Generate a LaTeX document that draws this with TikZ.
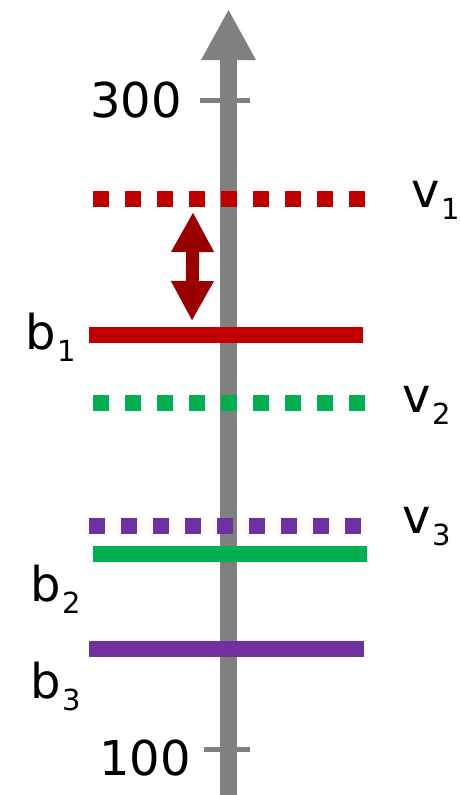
\documentclass[tikz,border=0pt]{standalone}
\usepackage{fontspec}
\setmainfont{DejaVu Sans}
\usetikzlibrary{arrows.meta}
\definecolor{cred}{HTML}{C00000}
\definecolor{cgreen}{HTML}{00B050}
\definecolor{cpurple}{HTML}{7030A0}
\definecolor{cgray}{HTML}{808080}
\definecolor{cdark}{HTML}{990000}
\newcommand{\subtxt}[1]{\kern1.5pt\raisebox{-12pt}{\fontsize{29}{29}\selectfont #1}}
\begin{document}
\begin{tikzpicture}[x=1pt,y=-1pt,
  lbl/.style={inner sep=0pt,anchor=base west,font=\fontsize{48}{58}\selectfont},
  num/.style={inner sep=0pt,anchor=base east,font=\fontsize{48}{58}\selectfont},
  dotline/.style={line width=16pt,dash pattern=on 16pt off 16pt},
  solidline/.style={line width=16pt},
  tick/.style={cgray,line width=5pt}]
\useasboundingbox (0,0) rectangle (460,795);
% axis
\coordinate (ax0) at (228.5,795);
\coordinate (ax1) at (228.5,9);
\draw[cgray,line width=17pt,-{Triangle[width=51pt,length=51pt]}] (ax0) -- (ax1);
% ticks
\coordinate (t3a) at (200,100); \coordinate (t3b) at (250,100);
\coordinate (t1a) at (204,749); \coordinate (t1b) at (250,749);
\draw[tick] (t3a) -- (t3b);
\draw[tick] (t1a) -- (t1b);
\node[num] (n300) at (182,117) {300};
\node[num] (n100) at (191,775) {100};
% levels
\coordinate (v1a) at (93,199); \coordinate (v1b) at (365,199);
\coordinate (b1a) at (89,335); \coordinate (b1b) at (363,335);
\coordinate (v2a) at (93,403); \coordinate (v2b) at (365,403);
\coordinate (v3a) at (89,525.5); \coordinate (v3b) at (361,525.5);
\coordinate (b2a) at (93,553.5); \coordinate (b2b) at (367,553.5);
\coordinate (b3a) at (89,648.5); \coordinate (b3b) at (363.5,648.5);
\draw[cred,dotline] (v1a) -- (v1b);
\draw[cred,solidline] (b1a) -- (b1b);
\draw[cgreen,dotline] (v2a) -- (v2b);
\draw[cpurple,dotline] (v3a) -- (v3b);
\draw[cgreen,solidline] (b2a) -- (b2b);
\draw[cpurple,solidline] (b3a) -- (b3b);
% double arrow
\coordinate (da1) at (193,212); \coordinate (da2) at (192,321);
\draw[cdark,line width=13pt,{Triangle[width=40pt,length=40pt]}-{Triangle[width=40pt,length=40pt]}] (da1) -- (da2);
% labels
\node[lbl] (lv1) at (411,207.7) {v\subtxt{1}};
\node[lbl] (lb1) at (25,349) {b\subtxt{1}};
\node[lbl] (lv2) at (402,412.7) {v\subtxt{2}};
\node[lbl] (lv3) at (402,533) {v\subtxt{3}};
\node[lbl] (lb2) at (30,601.7) {b\subtxt{2}};
\node[lbl] (lb3) at (30,698) {b\subtxt{3}};
\end{tikzpicture}
\end{document}
